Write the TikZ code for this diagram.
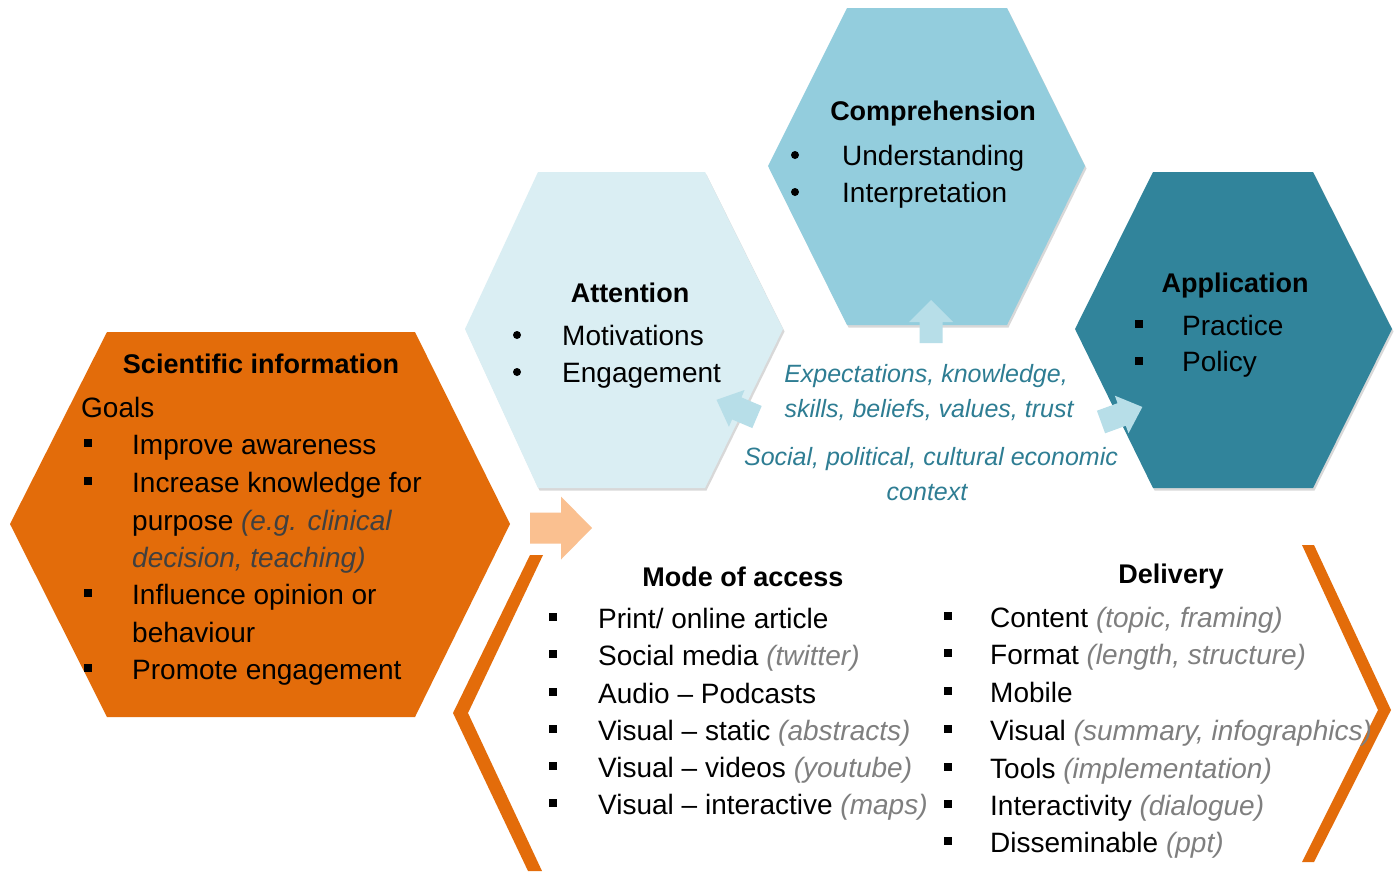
\documentclass[tikz,border=0pt]{standalone}
\usepackage{fontspec}
\setmainfont{Liberation Sans}
\usetikzlibrary{shadows}
\definecolor{orng}{HTML}{E36C0A}
\definecolor{lorng}{HTML}{FAC090}
\definecolor{attc}{HTML}{DAEEF3}
\definecolor{compc}{HTML}{93CDDD}
\definecolor{appc}{HTML}{31849B}
\definecolor{larrow}{HTML}{B7DEE8}
\definecolor{midtxt}{HTML}{2E7D93}
\definecolor{itgray}{HTML}{7F7F7F}
\definecolor{dgray}{HTML}{404040}
\tikzset{
  hexsh/.style={drop shadow={shadow xshift=1.5pt, shadow yshift=-2.5pt, opacity=.3}},
  body/.style={anchor=base west, inner sep=0pt, font=\fontsize{28}{34}\selectfont},
  ttl/.style={anchor=base, inner sep=0pt, font=\bfseries\fontsize{27}{32}\selectfont},
  midt/.style={anchor=base, inner sep=0pt, text=midtxt, font=\itshape\fontsize{25}{30}\selectfont},
  sqb/.style={rectangle, fill=black, inner sep=0pt, minimum size=8.5pt},
  rdb/.style={circle, fill=black, inner sep=0pt, minimum size=8pt},
  pics/barrow/.style args={#1/#2/#3/#4}{code={
    \fill (0,-#3) -- (#2,-#3) -- (#2,-#4) -- (#1,0) -- (#2,#4) -- (#2,#3) -- (0,#3) -- cycle;}}
}
\newcommand{\gi}[1]{\textcolor{itgray}{\itshape #1}}
\begin{document}
\begin{tikzpicture}[x=1pt,y=-1pt]
\useasboundingbox (0,0) rectangle (1400,871);
\fill[white] (0,0) rectangle (1400,871);

% hexagons
\fill[orng] (107,332) -- (415,332) -- (510,524) -- (415,717) -- (107,717) -- (10,524) -- cycle;
\fill[attc, hexsh] (538,172) -- (705,172) -- (783,329) -- (705,488) -- (538,488) -- (465,329) -- cycle;
\fill[compc, hexsh] (847,8) -- (1007,8) -- (1085,166) -- (1007,325) -- (847,325) -- (768,166) -- cycle;
\fill[appc, hexsh] (1153,172) -- (1313,172) -- (1392,329) -- (1313,488) -- (1153,488) -- (1075,329) -- cycle;

% chevrons
\fill[orng] (530,555) -- (543,555) -- (468,713) -- (542,871) -- (528,871) -- (453,713) -- cycle;
\fill[orng] (1302,545) -- (1314,545) -- (1391,710) -- (1314,862) -- (1302,862) -- (1378,710) -- cycle;

% block arrows
\pic[lorng] at (530,528) {barrow=62/31/15.5/31.5};
\pic[larrow, rotate=90] at (931,343) {barrow=43/21/11.5/22};
\pic[larrow, rotate=157] at (757,417) {barrow=44/22/12/20};
\pic[larrow, rotate=20] at (1101,422) {barrow=44/22/12/20};

% Scientific information
\node[ttl] (sci) at (261,373) {Scientific information};
\node[body] (goals) at (81,417) {Goals};
\node[sqb] (gb1) at (88,443) {};
\node[body] (g1) at (132,454) {Improve awareness};
\node[sqb] (gb2) at (88,481) {};
\node[body] (g2) at (132,492) {Increase knowledge for};
\node[body] (g2b) at (132,530) {purpose \textcolor{dgray}{\itshape (e.g. clinical}};
\node[body] (g2c) at (132,567) {\textcolor{dgray}{\itshape decision, teaching)}};
\node[sqb] (gb3) at (88,593) {};
\node[body] (g3) at (132,604) {Influence opinion or};
\node[body] (g3b) at (132,642) {behaviour};
\node[sqb] (gb4) at (88,668) {};
\node[body] (g4) at (132,679) {Promote engagement};

% Attention
\node[ttl] (att) at (630,302) {Attention};
\node[rdb] (ab1) at (517,335) {};
\node[body] (at1) at (562,345) {Motivations};
\node[rdb] (ab2) at (517,372) {};
\node[body] (at2) at (562,382) {Engagement};

% Comprehension
\node[ttl] (comp) at (933,120) {Comprehension};
\node[rdb] (cb1) at (795,155) {};
\node[body] (c1) at (842,165) {Understanding};
\node[rdb] (cb2) at (795,192) {};
\node[body] (c2) at (842,202) {Interpretation};

% Application
\node[ttl] (app) at (1235,292) {Application};
\node[sqb] (pb1) at (1139,324) {};
\node[body] (p1) at (1182,335) {Practice};
\node[sqb] (pb2) at (1139,361) {};
\node[body] (p2) at (1182,371) {Policy};

% middle texts
\node[midt] (e1) at (926,382) {Expectations, knowledge,};
\node[midt] (e2) at (929,417) {skills, beliefs, values, trust};
\node[midt] (e3) at (931,465) {Social, political, cultural economic};
\node[midt] (e4) at (927,500) {context};

% Mode of access
\node[ttl] (mode) at (743,586) {Mode of access};
\node[sqb] (mb1) at (553,617) {};
\node[body] (m1) at (598,628) {Print/ online article};
\node[sqb] (mb2) at (553,654) {};
\node[body] (m2) at (598,665) {Social media \gi{(twitter)}};
\node[sqb] (mb3) at (553,692) {};
\node[body] (m3) at (598,703) {Audio -- Podcasts};
\node[sqb] (mb4) at (553,729) {};
\node[body] (m4) at (598,740) {Visual -- static \gi{(abstracts)}};
\node[sqb] (mb5) at (553,766) {};
\node[body] (m5) at (598,777) {Visual -- videos \gi{(youtube)}};
\node[sqb] (mb6) at (553,803) {};
\node[body] (m6) at (598,814) {Visual -- interactive \gi{(maps)}};

% Delivery
\node[ttl] (del) at (1171,583) {Delivery};
\node[sqb] (db1) at (948,616) {};
\node[body] (d1) at (990,627) {Content \gi{(topic, framing)}};
\node[sqb] (db2) at (948,653) {};
\node[body] (d2) at (990,664) {Format \gi{(length, structure)}};
\node[sqb] (db3) at (948,691) {};
\node[body] (d3) at (990,702) {Mobile};
\node[sqb] (db4) at (948,729) {};
\node[body] (d4) at (990,740) {Visual \gi{(summary, infographics)}};
\node[sqb] (db5) at (948,767) {};
\node[body] (d5) at (990,778) {Tools \gi{(implementation)}};
\node[sqb] (db6) at (948,804) {};
\node[body] (d6) at (990,815) {Interactivity \gi{(dialogue)}};
\node[sqb] (db7) at (948,841) {};
\node[body] (d7) at (990,852) {Disseminable \gi{(ppt)}};
\end{tikzpicture}
\end{document}
